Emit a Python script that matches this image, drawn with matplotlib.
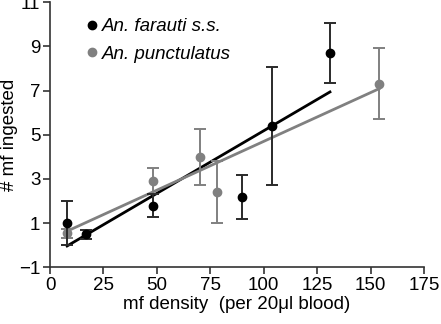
import matplotlib.pyplot as plt
import numpy as np

plt.rcParams.update({
    "font.family": ["Liberation Sans", "DejaVu Sans"],
    "font.size": 13.5,
})

# An. farauti s.s. (black)
far_x = [8, 17, 48, 90, 104, 131]
far_y = [1.0, 0.5, 1.8, 2.2, 5.4, 8.7]
far_err = [1.0, 0.2, 0.5, 1.0, 2.67, 1.35]
far_fit = (0.0566, -0.48)   # slope, intercept
far_range = [8, 131]

# An. punctulatus (grey)
pun_x = [8, 48, 70, 78, 154]
pun_y = [0.55, 2.9, 4.0, 2.4, 7.3]
pun_err = [0.2, 0.6, 1.27, 1.4, 1.6]
pun_fit = (0.0441, 0.29)
pun_range = [8, 154]

grey = "#808080"
dark = "#2a2a2a"

fig = plt.figure(figsize=(4.41, 3.24), dpi=100)
ax = fig.add_axes([0.1134, 0.1744, 0.848, 0.8194])

# Regression lines
for (m, b), xr, col in [(far_fit, far_range, "black"), (pun_fit, pun_range, grey)]:
    xs = np.array(xr)
    ax.plot(xs, m * xs + b, color=col, lw=2, zorder=2)

ax.errorbar(pun_x, pun_y, yerr=pun_err, fmt="o", color=grey, ms=6,
            elinewidth=1.4, capsize=4, capthick=1.4, zorder=3,
            label="An. punctulatus")
ax.errorbar(far_x, far_y, yerr=far_err, fmt="o", color="black", ecolor=dark,
            ms=6, elinewidth=1.4, capsize=4, capthick=1.4, zorder=4,
            label="An. farauti s.s.")

ax.set_xlim(0, 175)
ax.set_ylim(-1, 11)
ax.set_xticks([0, 25, 50, 75, 100, 125, 150, 175])
ax.set_yticks([-1, 1, 3, 5, 7, 9, 11])

ax.spines["right"].set_visible(False)
ax.spines["top"].set_visible(False)
for s in ["left", "bottom"]:
    ax.spines[s].set_linewidth(1.2)
    ax.spines[s].set_color("#333333")
ax.tick_params(width=1.2, length=5, color="#333333", pad=2)

ax.set_xlabel("mf density  (per 20\u03bcl blood)", labelpad=1)
ax.set_ylabel("# mf ingested", labelpad=0.8)

h, l = ax.get_legend_handles_labels()
leg = ax.legend([h[1][0], h[0][0]], [l[1], l[0]], loc="upper left",
                bbox_to_anchor=(0.062, 0.975), frameon=False,
                handletextpad=0.05, handlelength=1.0, labelspacing=0.55,
                borderpad=0, prop={"style": "italic", "size": 13.5})

fig.savefig("out.png", dpi=100)
